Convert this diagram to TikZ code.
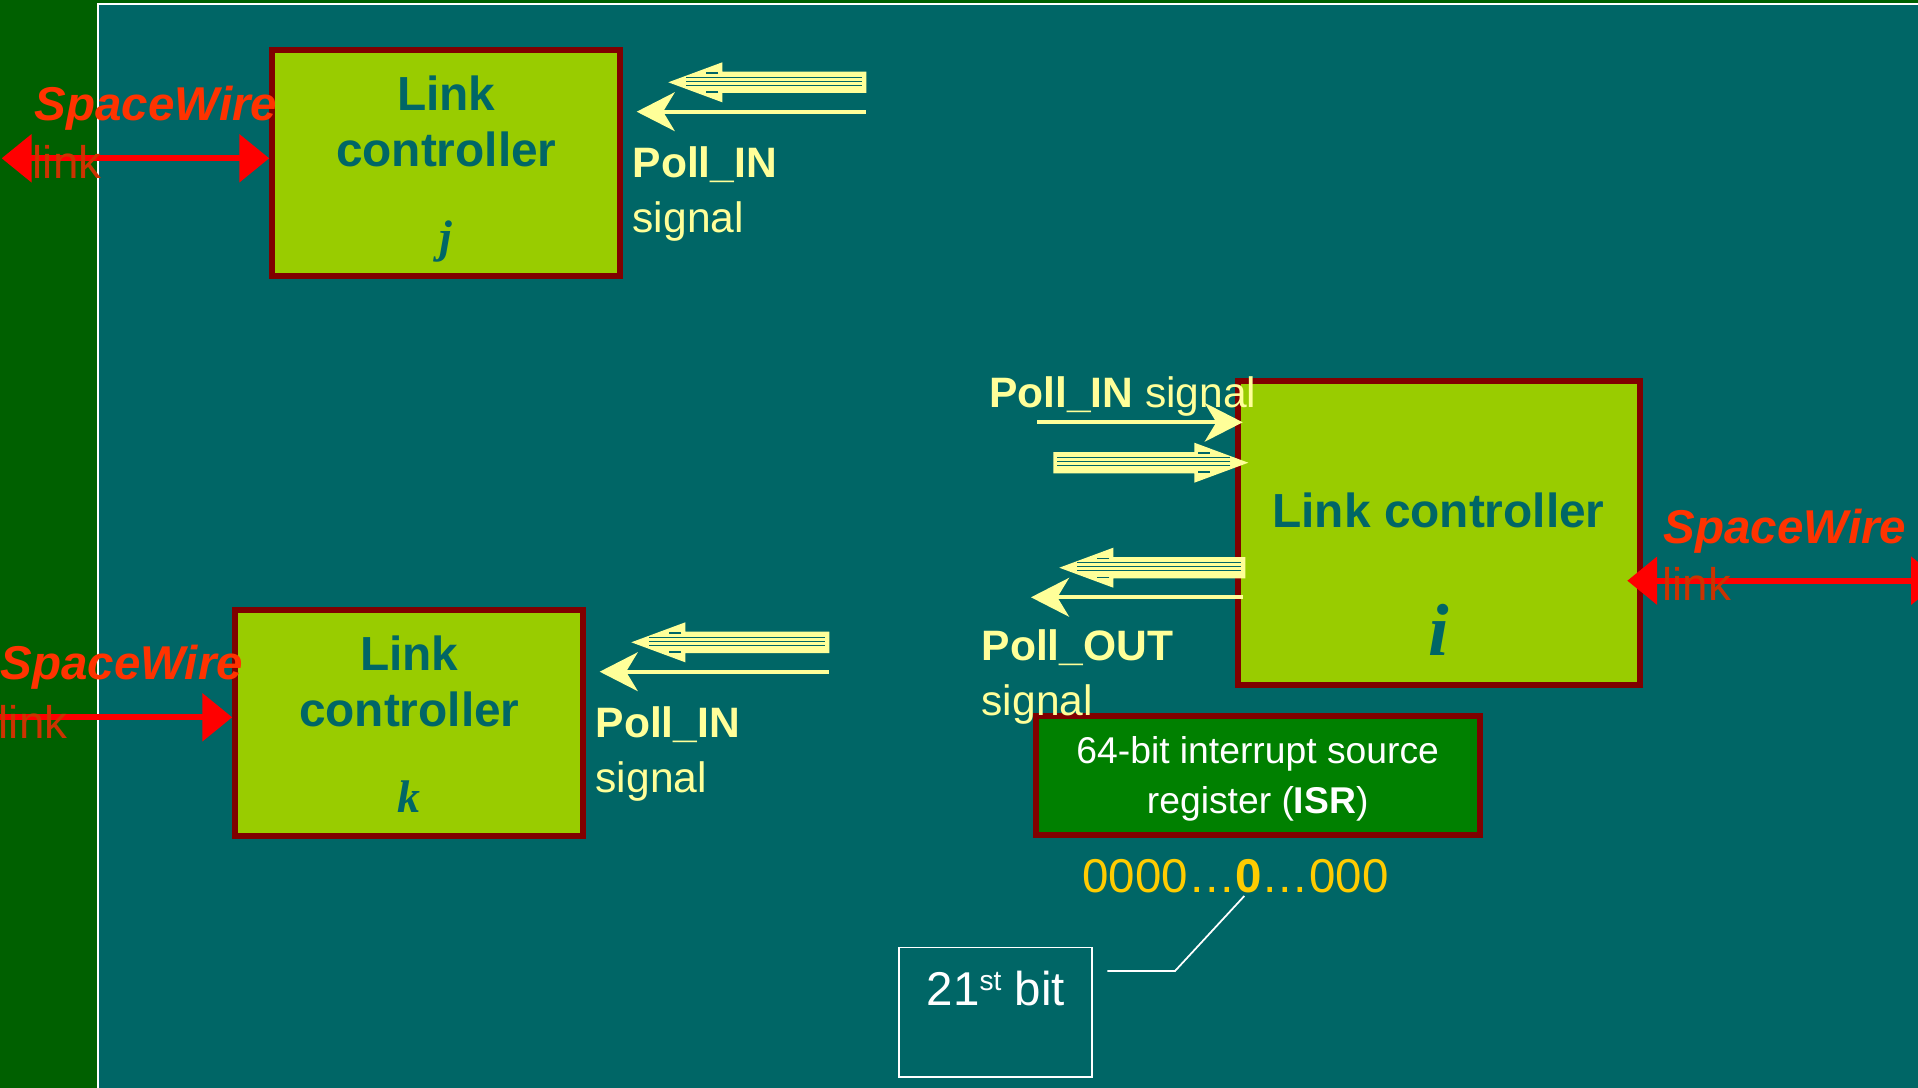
\documentclass[tikz,border=0pt]{standalone}
\usepackage{fontspec}
\setmainfont{Liberation Sans}
\newfontfamily\idxfont{Liberation Serif}
\usetikzlibrary{arrows.meta}

\begin{document}
\begin{tikzpicture}[x=0.01cm, y=-0.01cm,
        ctrlbox/.style={draw=boxred, line width=1.7pt, fill=boxgreen, inner sep=0pt},
        ctrltext/.style={text=bgteal, align=center, inner sep=0pt, anchor=base,
            font=\fontsize{13.6pt}{16.1pt}\selectfont\bfseries},
        idxtext/.style={text=bgteal, inner sep=0pt, anchor=base,
            font=\idxfont\bfseries\itshape\fontsize{13pt}{15pt}\selectfont},
        polltext/.style={text=sigyellow, align=left, inner sep=0pt, anchor=base west,
            font=\fontsize{12.1pt}{15.6pt}\selectfont},
        pollarrow/.style={draw=sigyellow, line width=1.15pt,
            -{Stealth[length=10.8pt, width=11pt, inset=3.3pt]}},
        swarrow/.style={draw=swline, line width=1.6pt, >={Triangle[length=8.5pt, width=13.4pt]}},
        swtext/.style={text=swred, inner sep=0pt, anchor=base west,
            font=\fontsize{13.5pt}{16pt}\selectfont\bfseries\itshape},
        linktext/.style={text=linkred, inner sep=0pt, anchor=base west,
            font=\fontsize{13pt}{16pt}\selectfont},
        pics/fatarrow/.style={code={
            \fill[sigyellow] (0,0) -- (-54,-20) -- (-54,-10.7) -- (-#1,-10.7) -- (-#1,10.7)
                -- (-54,10.7) -- (-54,20) -- cycle;
            \foreach \s in {-5,-1,3}
                \draw[bgteal, line width=0.4pt] (-18,\s) -- (-#1+4,\s);
            \draw[bgteal, line width=0.4pt] (-50,-9.5) -- (-38,-9.5) (-50,9.5) -- (-38,9.5);
        }}
    ]
        \definecolor{stripgreen}{HTML}{006000}
        \definecolor{bgteal}{HTML}{006666}
        \definecolor{boxgreen}{HTML}{99CC00}
        \definecolor{boxred}{HTML}{800000}
        \definecolor{isrgreen}{HTML}{008000}
        \definecolor{sigyellow}{HTML}{FFFF99}
        \definecolor{swred}{HTML}{FF3300}
        \definecolor{swline}{HTML}{FF0000}
        \definecolor{linkred}{HTML}{CC3300}
        \definecolor{bitgold}{HTML}{FFCC00}
        \useasboundingbox (0,0) rectangle (1918,1088);
        \clip (0,0) rectangle (1918,1088);
        \fill[stripgreen] (0,0) rectangle (1918,1088);
        \draw[white, line width=0.5pt, fill=bgteal] (98,4) rectangle (1930,1100);

        \foreach \nm/\dx/\dy in {j/0/0, k/-37/560}
        {
            \begin{scope}[shift={(\dx,\dy)}]
                \node[ctrlbox, minimum width=3.48cm, minimum height=2.266cm] (box\nm) at (446.3,163) {};
                \node[ctrltext] (title\nm) at (446.3,166.7) {Link\\controller};
                \node[idxtext] (idx\nm) at (446.3,252) {\nm};
                \pic[xscale=-1] at (668.3,82.3) {fatarrow=198};
                \coordinate (infrom\nm) at (865.7,111.7);
                \coordinate (intip\nm) at (636.7,111.7);
                \draw[pollarrow] (infrom\nm) -- (intip\nm);
                \node[polltext] (poll\nm) at (632,232.4) {\textbf{Poll\_IN}\\signal};
            \end{scope}
        }

        \node[ctrlbox, minimum width=4.023cm, minimum height=3.04cm] (boxi) at (1439.2,533.3) {};
        \node[ctrltext] (titlei) at (1438.5,527) {Link controller};
        \node[idxtext, font=\idxfont\bfseries\itshape\fontsize{21pt}{24pt}\selectfont] (idxi) at (1438.5,655) {i};

        \node[ctrlbox, fill=isrgreen, minimum width=4.44cm, minimum height=1.196cm] (isr) at (1257.7,775.5) {};
        \node[text=white, align=center, inner sep=0pt, anchor=base,
            font=\fontsize{10.6pt}{14.2pt}\selectfont] (isrlbl) at (1257.7,813)
            {64-bit interrupt source\\register (\textbf{ISR})};
        \node[text=bitgold, inner sep=0pt, anchor=base west, font=\fontsize{13.5pt}{16pt}\selectfont]
            (bits) at (1081.7,892.7) {0000…\textbf{0}…000};

        \coordinate (iinfrom) at (1037.3,422.3);
        \coordinate (iintip) at (1242.7,422.3);
        \draw[pollarrow] (iinfrom) -- (iintip);
        \pic at (1248.3,462.7) {fatarrow=195};
        \pic[xscale=-1] at (1059.3,567.7) {fatarrow=186};
        \coordinate (ioutfrom) at (1242.7,597.3);
        \coordinate (iouttip) at (1031,597.3);
        \draw[pollarrow] (ioutfrom) -- (iouttip);
        \node[polltext] (pollini) at (988.4,407) {\textbf{Poll\_IN} signal};
        \node[polltext] (pollouti) at (981,715.6) {\textbf{Poll\_OUT}\\signal};

        \coordinate (swjend) at (1.7,158.3);
        \draw[swarrow, <->] (swjend) -- (swjend -| boxj.west);
        \node[swtext] (swj) at (34,121) {SpaceWire};
        \node[linktext] (linkj) at (32,179) {link};
        \coordinate (swkend) at (-10,717.3);
        \draw[swarrow, ->] (swkend) -- (swkend -| boxk.west);
        \node[swtext] (swk) at (0,679) {SpaceWire};
        \node[linktext] (linkk) at (-2,738) {link};
        \coordinate (switip) at (1627.3,580.7);
        \coordinate (swiend) at (1941,580.7);
        \draw[swarrow, <->] (switip) -- (swiend);
        \node[swtext] (swi) at (1663,543.3) {SpaceWire};
        \node[linktext] (linki) at (1661.7,600.7) {link};

        \node[draw=white, line width=0.5pt, inner sep=0pt, anchor=north, minimum width=1.93cm,
            text=white, text height=16.6pt, text depth=20.1pt,
            font=\fontsize{13.5pt}{16pt}\selectfont] (bitbox) at (995.8,946.7)
            {21\raisebox{4.3pt}{\fontsize{8pt}{9pt}\selectfont st} bit};
        \coordinate (zerofoot) at (1244.3,896);
        \coordinate (elbow) at (1175,971);
        \coordinate (calloutend) at (1107.3,971);
        \draw[white, line width=0.5pt] (zerofoot) -- (elbow) -- (calloutend);
    \end{tikzpicture}
\end{document}
